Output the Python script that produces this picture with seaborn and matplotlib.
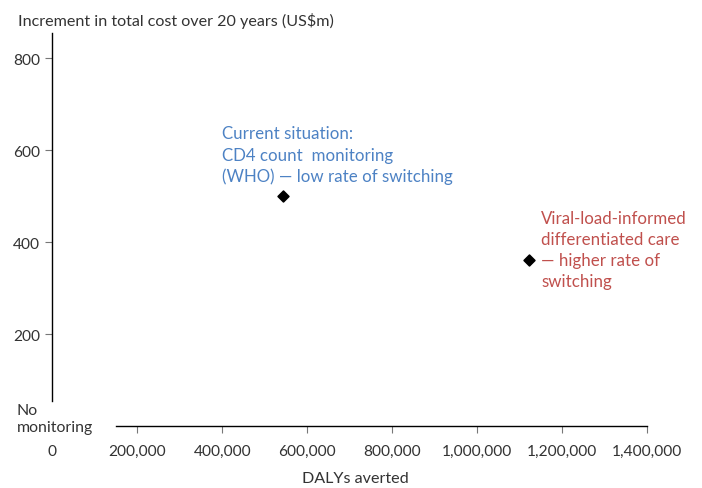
import matplotlib
matplotlib.use("Agg")
import matplotlib.pyplot as plt
import seaborn as sns
import pandas as pd

# values
strategies = ["CD4 count monitoring (WHO)", "Viral-load-informed differentiated care"]
dalys_averted = [543000, 1122000]
cost_increment = [500, 362]
labels = [
    "Current situation:\nCD4 count  monitoring\n(WHO) \u2014 low rate of switching",
    "Viral-load-informed\ndifferentiated care\n\u2014 higher rate of\nswitching",
]
label_colors = ["#4d82c4", "#c0504d"]
label_offsets = [(-61, 71), (12, 50)]  # pixels from the point

x_ticks = [200000, 400000, 600000, 800000, 1000000, 1200000, 1400000]
x_tick_labels = ["200,000", "400,000", "600,000", "800,000",
                 "1,000,000", "1,200,000", "1,400,000"]
y_ticks = [200, 400, 600, 800]

df = pd.DataFrame({"strategy": strategies, "dalys": dalys_averted, "cost": cost_increment})

sns.set_theme(style="white")
plt.rcParams["font.family"] = ["Lato", "DejaVu Sans"]

fig = plt.figure(figsize=(7.02, 4.89), dpi=100)
ax = fig.add_axes([52.3 / 702, (489 - 427.3) / 489, 595 / 702, 395.6 / 489])

sns.scatterplot(data=df, x="dalys", y="cost", marker="D", s=30, color="black",
                edgecolor="black", linewidth=1.2, legend=False, ax=ax, zorder=3)

for i in range(len(df)):
    ax.annotate(labels[i], xy=(dalys_averted[i], cost_increment[i]),
                xytext=label_offsets[i], textcoords="offset pixels",
                ha="left", va="top", color=label_colors[i], fontsize=12.2,
                linespacing=1.4)

ax.set_xlim(0, 1400000)
ax.set_ylim(0, 860)
ax.set_xticks(x_ticks)
ax.set_xticklabels(x_tick_labels)
ax.set_yticks(y_ticks)
ax.set_yticklabels([str(v) for v in y_ticks])

for side in ["top", "right"]:
    ax.spines[side].set_visible(False)
ax.spines["left"].set_bounds(55, 855)
ax.spines["bottom"].set_bounds(150000, 1400000)
for side in ["left", "bottom"]:
    ax.spines[side].set_color("black")
    ax.spines[side].set_linewidth(1.0)

ax.tick_params(axis="both", which="major", direction="out", length=5, width=0.8,
               color="#777777", labelsize=11.2, labelcolor="#333333", pad=4)
ax.tick_params(axis="x", pad=8, bottom=True)
ax.tick_params(axis="y", left=True)

# the "0" origin label sits under the y axis, where the x axis is broken
ax.text(0, -0.062, "0", transform=ax.get_xaxis_transform(), ha="center", va="center",
        fontsize=11.2, color="#333333")

ax.set_xlabel("")
ax.set_ylabel("")
fig.text(355 / 702, 1 - 479 / 489, "DALYs averted", ha="center", va="center",
         fontsize=11.6, color="#333333")
fig.text(18 / 702, 1 - 21 / 489, "Increment in total cost over 20 years (US$m)",
         ha="left", va="center", fontsize=11.6, color="#333333")
fig.text(17 / 702, 1 - 404 / 489, "No\nmonitoring", ha="left", va="top",
         fontsize=11.4, color="#333333", linespacing=1.25)

fig.savefig("out.png", dpi=100)
